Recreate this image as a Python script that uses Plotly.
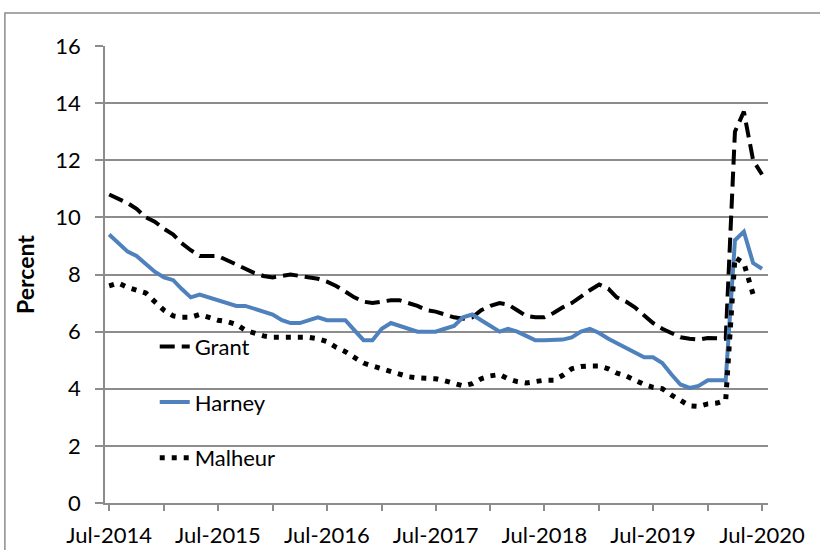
import pandas as pd
import plotly.graph_objects as go

# ---- data -------------------------------------------------------------
months = pd.date_range("2014-07-01", "2020-07-01", freq="MS")

grant = [10.8, 10.65, 10.5, 10.3, 10.0, 9.85, 9.6, 9.4, 9.1, 8.85, 8.65, 8.65,
         8.65, 8.5, 8.35, 8.2, 8.05, 7.95, 7.9, 7.95, 8.0, 7.95, 7.9, 7.85,
         7.75, 7.6, 7.4, 7.2, 7.05, 7.0, 7.05, 7.1, 7.1, 7.0, 6.9, 6.75,
         6.7, 6.6, 6.5, 6.45, 6.5, 6.75, 6.9, 7.0, 6.95, 6.75, 6.55, 6.5,
         6.5, 6.65, 6.85, 7.0, 7.25, 7.45, 7.65, 7.5, 7.2, 7.05, 6.85, 6.55,
         6.3, 6.1, 5.95, 5.8, 5.75, 5.72, 5.78, 5.75, 5.75, 13.0, 13.7, 12.0, 11.5]

harney = [9.4, 9.1, 8.8, 8.65, 8.35, 8.1, 7.9, 7.8, 7.5, 7.2, 7.3, 7.2,
          7.1, 7.0, 6.9, 6.9, 6.8, 6.7, 6.6, 6.4, 6.3, 6.3, 6.4, 6.5,
          6.4, 6.4, 6.4, 6.05, 5.7, 5.7, 6.1, 6.3, 6.2, 6.1, 6.0, 6.0,
          6.0, 6.1, 6.2, 6.5, 6.6, 6.4, 6.2, 6.0, 6.1, 6.0, 5.85, 5.7,
          5.7, 5.72, 5.72, 5.8, 6.0, 6.1, 5.95, 5.75, 5.6, 5.4, 5.27, 5.1,
          5.1, 4.9, 4.5, 4.15, 4.03, 4.1, 4.3, 4.3, 4.3, 9.2, 9.5, 8.4, 8.2]

malheur = [7.6, 7.7, 7.55, 7.45, 7.35, 7.05, 6.75, 6.55, 6.5, 6.5, 6.6, 6.5,
           6.4, 6.35, 6.25, 6.05, 5.95, 5.85, 5.8, 5.8, 5.8, 5.8, 5.8, 5.75,
           5.65, 5.45, 5.3, 5.1, 4.9, 4.8, 4.7, 4.6, 4.5, 4.42, 4.38, 4.38,
           4.35, 4.28, 4.2, 4.1, 4.18, 4.35, 4.45, 4.5, 4.35, 4.25, 4.2, 4.25,
           4.3, 4.3, 4.47, 4.7, 4.78, 4.8, 4.8, 4.7, 4.55, 4.45, 4.3, 4.15,
           4.05, 4.0, 3.78, 3.6, 3.4, 3.38, 3.47, 3.5, 3.6, 8.6, 8.4, 7.3, None]

tick_dates = ["2014-07-01", "2015-01-01", "2015-07-01", "2016-01-01", "2016-07-01",
              "2017-01-01", "2017-07-01", "2018-01-01", "2018-07-01", "2019-01-01",
              "2019-07-01", "2020-01-01", "2020-07-01"]
tick_text = ["Jul-2014", "", "Jul-2015", "", "Jul-2016", "", "Jul-2017", "",
             "Jul-2018", "", "Jul-2019", "", "Jul-2020"]

# ---- figure -----------------------------------------------------------
FONT = "Lato"
GRID = "#8c8c8c"

fig = go.Figure()
fig.add_trace(go.Scatter(x=months, y=grant, name="Grant", mode="lines",
                         legendgroup="g",
                         line=dict(color="black", width=4, dash="15px,7px")))
fig.add_trace(go.Scatter(x=months, y=harney, name="Harney", mode="lines",
                         legendgroup="h",
                         line=dict(color="#4f81bd", width=4)))
fig.add_trace(go.Scatter(x=months, y=malheur, name="Malheur", mode="lines",
                         legendgroup="m",
                         line=dict(color="black", width=5, dash="5px,7px")))

fig.update_layout(
    width=820, height=550,
    margin=dict(l=105, r=52, t=46, b=47),
    paper_bgcolor="white", plot_bgcolor="white",
    font=dict(family=FONT, size=22, color="black"),
    legend=dict(x=0.075, y=0.388, xanchor="left", yanchor="top",
                bgcolor="rgba(0,0,0,0)", tracegroupgap=24,
                font=dict(family=FONT, size=22, color="black")),
    xaxis=dict(type="date", range=["2014-06-17", "2020-07-21"],
               tickmode="array", tickvals=tick_dates, ticktext=tick_text,
               ticks="outside", ticklen=6, tickcolor=GRID, tickwidth=1.5,
               showline=True, linecolor=GRID, linewidth=1.5,
               showgrid=False, zeroline=False, ticklabelstandoff=6,
               automargin=False,
               tickfont=dict(family=FONT, size=22, color="black")),
    yaxis=dict(range=[0, 16], dtick=2, tick0=0,
               ticks="outside", ticklen=8, tickcolor=GRID, tickwidth=1.5,
               showline=True, linecolor=GRID, linewidth=1.5,
               showgrid=True, gridcolor=GRID, gridwidth=1.5, zeroline=False,
               ticklabelstandoff=10, automargin=False,
               tickfont=dict(family=FONT, size=22, color="black"),
               title=dict(text="<b>Percent</b>", standoff=14,
                          font=dict(family=FONT, size=23, color="black"))),
    shapes=[dict(type="rect", xref="paper", yref="paper",
                 x0=-0.151, x1=1.3, y0=-0.3, y1=1.072,
                 line=dict(color="#8c8c8c", width=1.5), layer="below")],
)

fig.write_html("out.html",
               config={"displayModeBar": False},
               post_script="document.body.style.margin='0';document.body.style.overflow='hidden';")
